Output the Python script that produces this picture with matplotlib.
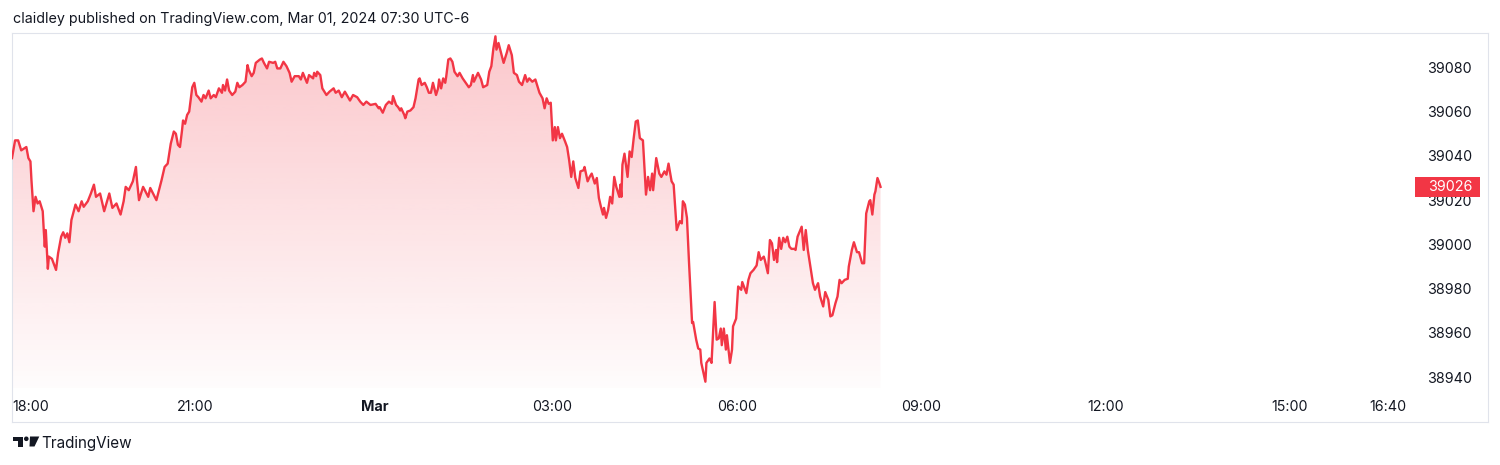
import numpy as np
import matplotlib
matplotlib.use("Agg")
import matplotlib.pyplot as plt
import matplotlib.transforms as mtransforms
from matplotlib.patches import Rectangle, Polygon, Circle

plt.rcParams['font.family'] = ['Inter', 'DejaVu Sans']

# bar position (chart minutes since 18:00, session-compressed) and price
bars = [
    0, 3, 6, 9, 14, 16, 18, 19, 21, 23, 25, 27, 30, 31, 32, 33, 35, 36, 39, 43,
    45, 48, 50, 52, 54, 56, 58, 62, 65, 68, 70, 74, 77, 80, 82, 86, 90, 95, 98, 102,
    106, 109, 111, 114, 118, 121, 122, 124, 128, 133, 135, 141, 144, 146, 149, 152, 155, 158, 160, 162,
    164, 166, 167, 169, 171, 173, 176, 178, 180, 182, 185, 187, 189, 192, 194, 197, 199, 202, 205, 206,
    208, 210, 212, 215, 218, 220, 222, 225, 228, 230, 231, 234, 236, 238, 242, 244, 246, 249, 251, 255,
    257, 259, 262, 265, 268, 271, 273, 276, 280, 282, 284, 288, 290, 294, 295, 297, 298, 301, 303, 307,
    310, 314, 316, 319, 322, 325, 330, 333, 337, 340, 343, 346, 350, 355, 358, 359, 362, 365, 368, 371,
    372, 375, 377, 379, 380, 383, 384, 386, 389, 392, 394, 397, 398, 400, 403, 405, 407, 409, 411, 414,
    416, 417, 419, 421, 423, 424, 426, 428, 430, 432, 435, 437, 440, 443, 446, 448, 450, 451, 455, 458,
    460, 464, 466, 468, 470, 472, 473, 475, 478, 480, 483, 485, 488, 490, 493, 495, 498, 501, 503, 505,
    508, 511, 512, 515, 518, 520, 522, 524, 526, 528, 530, 531, 533, 535, 537, 540, 542, 544, 546, 548,
    550, 553, 555, 558, 559, 562, 564, 566, 569, 571, 573, 575, 577, 578, 580, 582, 584, 586, 588, 590,
    593, 594, 595, 596, 598, 601, 603, 605, 607, 609, 611, 613, 616, 619, 621, 623, 625, 626, 629, 632,
    634, 637, 639, 641, 644, 646, 649, 652, 654, 655, 657, 659, 661, 664, 665, 668, 670, 672, 673, 677,
    678, 681, 683, 686, 688, 690, 692, 693, 695, 697, 698, 701, 703, 704, 707, 709, 712, 713, 717, 719,
    721, 724, 727, 729, 731, 734, 735, 738, 740, 742, 744, 746, 747, 749, 751, 753, 755, 757, 759, 761,
    764, 765, 767, 771, 773, 775, 777, 779, 782, 784, 787, 789, 792, 794, 797, 799, 801, 804, 806, 808,
    810, 813, 816, 817, 820, 822, 825, 827, 830, 832, 834, 837, 838, 840, 842, 843, 845, 847, 848,
]
prices = [
    39039, 39047, 39047, 39042.5, 39044, 39039, 39037.5, 39029, 39015, 39021.5,
    39018.5, 39019.5, 39015, 39006.5, 38999, 39006.5, 38989, 38994.5, 38993.5, 38988.5,
    38996, 39003.5, 39005.5, 39003, 39005, 39001, 39011, 39018, 39015, 39019.5,
    39017, 39019.5, 39023, 39027, 39021.5, 39023, 39015, 39023, 39016.5, 39018.5,
    39013.5, 39019.5, 39026, 39024.5, 39028.5, 39035, 39029, 39020, 39026, 39021.5,
    39025.5, 39020, 39025.5, 39029, 39035, 39036.5, 39045.5, 39051, 39050, 39045,
    39044, 39051.5, 39056, 39054.5, 39058.5, 39060, 39071, 39073, 39067.5, 39066.5,
    39064.5, 39067.5, 39066, 39069.5, 39066, 39067.5, 39066.5, 39070.5, 39068.5, 39072,
    39069.5, 39074.5, 39069.5, 39067.5, 39069, 39073, 39071, 39072, 39073.5, 39081,
    39079, 39076, 39077.5, 39082, 39083.5, 39084, 39082, 39079.5, 39082.5, 39082,
    39082.5, 39079.5, 39079.5, 39082.5, 39080.5, 39077.5, 39073.5, 39076, 39076, 39074.5,
    39077.5, 39073, 39076.5, 39075, 39077.5, 39076, 39078, 39076.5, 39070.5, 39067.5,
    39069, 39070.5, 39068.5, 39069.5, 39066.5, 39069, 39065, 39067.5, 39066.5, 39064.5,
    39063, 39064.5, 39063, 39063.5, 39061.5, 39062, 39059.5, 39063, 39064.5, 39063.5,
    39067, 39063, 39062, 39060.5, 39061.5, 39058.5, 39057, 39060, 39060.5, 39062,
    39066, 39074.5, 39075, 39072, 39073, 39071, 39068.5, 39068.5, 39073, 39067.5,
    39070.5, 39074.5, 39070.5, 39075, 39073, 39076, 39083.5, 39084, 39082.5, 39078,
    39076, 39077.5, 39075, 39073, 39071, 39072, 39076.5, 39073.5, 39077.5, 39074.5,
    39071, 39072, 39078, 39080.5, 39088.5, 39094, 39088, 39091, 39085.5, 39082,
    39086.5, 39090, 39085.5, 39077.5, 39076.5, 39073.5, 39072, 39076.5, 39073.5, 39075,
    39073.5, 39074.5, 39073, 39068.5, 39066, 39061.5, 39066, 39063.5, 39064, 39047,
    39053, 39047, 39053, 39048, 39050, 39046.5, 39044, 39038, 39030.5, 39037.5,
    39030, 39025.5, 39033, 39033.5, 39035, 39028.5, 39030.5, 39032, 39027.5, 39030,
    39021, 39017, 39013.5, 39016.5, 39012, 39015.5, 39021.5, 39018.5, 39030.5, 39026,
    39021.5, 39027, 39021.5, 39036, 39041, 39030.5, 39042, 39039.5, 39048, 39055.5,
    39056, 39048, 39047, 39022.5, 39030.5, 39024.5, 39032, 39024.5, 39039, 39032,
    39030.5, 39033, 39031.5, 39036.5, 39028.5, 39027, 39006.5, 39010.5, 39009.5, 39019.5,
    39018, 39012, 38992, 38964.5, 38965, 38957, 38953, 38952.5, 38946.5, 38938,
    38946.5, 38948.5, 38946.5, 38974, 38957, 38957.5, 38962, 38954.5, 38962, 38952.5,
    38959, 38946.5, 38952.5, 38963, 38966.5, 38981, 38979.5, 38983, 38978, 38984,
    38987, 38988.5, 38990.5, 38996.5, 38993, 38994.5, 38993, 38987, 39002, 39000.5,
    38993, 38997.5, 38992, 39003, 38998, 39003, 39001, 39003.5, 38999, 38998,
    38998, 38997.5, 39003.5, 39008, 38997.5, 39006.5, 38997.5, 38991.5, 38982.5, 38979.5,
    38982.5, 38976.5, 38972, 38978.5, 38975, 38967.5, 38968, 38973.5, 38976.5, 38984,
    38982.5, 38984, 38984.5, 38990, 38997.5, 39001, 38996.5, 38996.5, 38991.5, 38991.5,
    39014, 39019.5, 39020, 39013.5, 39022.5, 39024, 39030, 39027.5, 39026,
]

time_ticks = [0, 179.2, 354.4, 527.8, 707.9, 887.5, 1068.1, 1247.8, 1343.5]
time_labels = ['18:00', '21:00', 'Mar', '03:00', '06:00', '09:00', '12:00', '15:00', '16:40']
price_ticks = [38940, 38960, 38980, 39000, 39020, 39040, 39060, 39080]

red = '#f23645'
txt = '#131722'
frame = '#e0e3eb'

fig = plt.figure(figsize=(15, 4.65), dpi=100)
ax = fig.add_axes([12 / 1500, 43 / 465, 1476 / 1500, 389 / 465])

x = np.array(bars)
y = np.array(prices)
base = 38935
xmax, ymin, ymax = 1441.1, 38919.8, 39095.5

# gradient area under the line
area = ax.fill_between(x, y, base, color='none', lw=0)
grad = np.zeros((256, 1, 4))
grad[..., :3] = matplotlib.colors.to_rgb(red)
grad[..., 3] = np.linspace(0.28, 0.015, 256)[:, None]
im = ax.imshow(grad, extent=[x[0], x[-1], base, y.max()], aspect='auto',
               origin='upper', zorder=1)
im.set_clip_path(area.get_paths()[0], transform=ax.transData)

ax.plot(x, y, color=red, lw=1.7, zorder=3, solid_joinstyle='round')

ax.set_xlim(0, xmax)
ax.set_ylim(ymin, ymax)

for s in ax.spines.values():
    s.set_color(frame)
    s.set_linewidth(0.8)

ax.set_xticks(time_ticks, time_labels)
ax.tick_params(axis='x', length=0, pad=-10.8, labelsize=10.3, labelcolor=txt)
for lab in ax.get_xticklabels():
    lab.set_va('center')
xl = ax.get_xticklabels()
xl[0].set_ha('left')
xl[2].set_fontweight('bold')

ax.yaxis.tick_right()
ax.set_yticks(price_ticks, [str(p) for p in price_ticks])
ax.tick_params(axis='y', length=0, pad=-11.5, labelsize=10.3, labelcolor=txt)
for lab in ax.get_yticklabels():
    lab.set_ha('right')

# last price label
bt = mtransforms.blended_transform_factory(ax.transAxes, ax.transData)
last = prices[-1]
ax.add_patch(Rectangle((0.9505, last - 4.4), 0.0443, 8.8, transform=bt,
                       facecolor=red, edgecolor='none', zorder=5, clip_on=False))
ax.text(0.9894, last, f'{last:.0f}', transform=bt, ha='right', va='center',
        color='white', fontsize=10.3, zorder=6)

fig.text(12.7 / 1500, 1 - 19 / 465,
         'claidley published on TradingView.com, Mar 01, 2024 07:30 UTC-6',
         ha='left', va='center', fontsize=10.3, color=txt)

# TradingView logo, drawn in pixel coords measured from the top-left
pxt = mtransforms.Affine2D().scale(1, -1).translate(0, 465)
fig.patches.append(Polygon([(12.5, 436.5), (23, 436.5), (23, 446.5), (18, 446.5),
                            (18, 441), (12.5, 441)],
                           closed=True, transform=pxt, facecolor=txt))
fig.patches.append(Circle((26.3, 438.8), 2.3, transform=pxt, facecolor=txt))
fig.patches.append(Polygon([(30, 436.5), (39.3, 436.5), (34.5, 446.5), (29.5, 446.5)],
                           closed=True, transform=pxt, facecolor=txt))
fig.text(41.7 / 1500, 1 - 443 / 465, 'TradingView', ha='left', va='center',
         fontsize=11, color=txt)

fig.savefig('out.png', dpi=100)
